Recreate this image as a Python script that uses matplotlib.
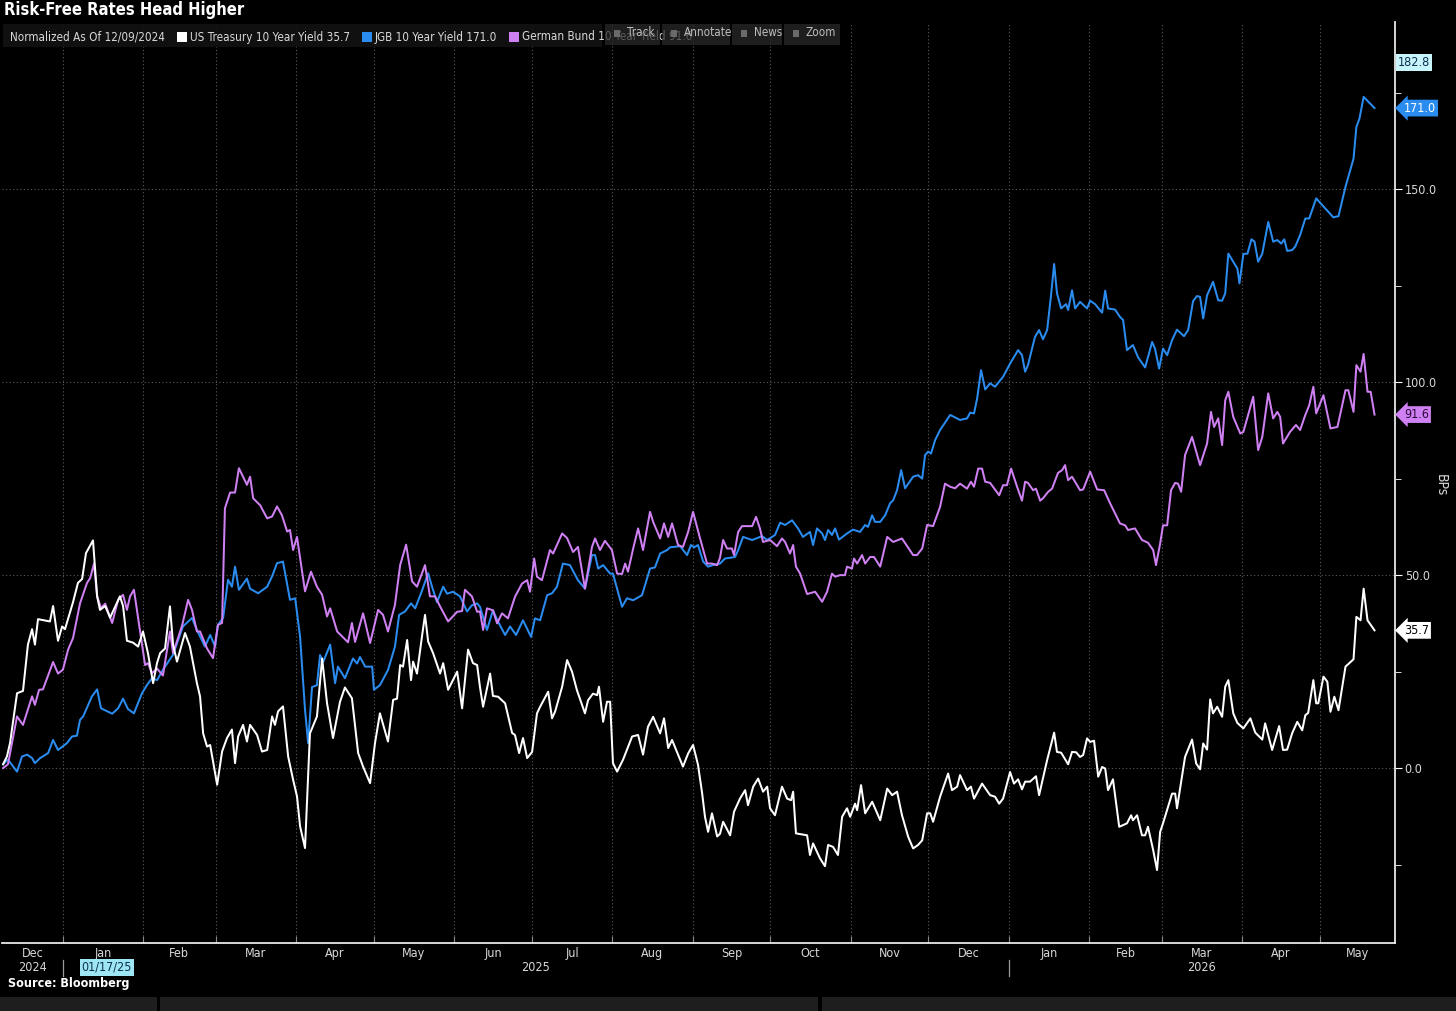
import os
import numpy as np
import pandas as pd
import matplotlib
matplotlib.use("Agg")
import matplotlib.pyplot as plt
import matplotlib.dates as mdates
from matplotlib.patches import Rectangle
from matplotlib.ticker import MultipleLocator, FixedLocator, NullFormatter
from matplotlib import font_manager
from matplotlib.font_manager import FontProperties

# ---------------- data (days since 2024-12-09, change in bp) ----------------
START_DATE = "2024-12-09"

ust_days = [0, 1.5, 2.7, 5.4, 7.7, 9.6, 11.2, 12.3, 13.5, 18.1,
            19.3, 21.2, 22.8, 23.9, 27.0, 28.9, 30.5, 32.0, 34.7, 36.3,
            37.4, 39.4, 41.3, 45.1, 46.3, 47.8, 50.2, 52.1, 54.0, 55.9,
            57.9, 59.4, 60.6, 62.5, 64.4, 65.6, 67.1, 70.2, 72.1, 74.8,
            76.0, 77.2, 78.7, 79.9, 82.6, 84.5, 86.4, 88.3, 89.5, 90.7,
            92.6, 94.1, 95.3, 98.0, 99.9, 101.9, 103.8, 104.9, 106.1, 108.0,
            110.0, 111.9, 113.4, 114.6, 116.5, 118.4, 121.1, 123.1, 125.0, 127.3,
            130.0, 131.9, 134.6, 137.0, 138.9, 141.6, 143.5, 145.4, 148.5, 150.5,
            152.0, 153.2, 154.3, 155.9, 157.4, 158.2, 159.7, 161.7, 162.8, 164.0,
            165.9, 168.6, 169.8, 171.7, 175.2, 177.1, 179.4, 181.3, 182.9, 184.0,
            185.2, 187.9, 189.0, 191.0, 193.7, 196.4, 197.5, 199.1, 200.6, 202.2,
            204.1, 206.0, 207.2, 210.3, 211.8, 213.0, 215.7, 217.6, 219.5, 221.4,
            224.5, 225.7, 227.6, 229.2, 229.9, 231.5, 233.0, 234.2, 235.3, 236.9,
            239.2, 242.7, 245.0, 246.9, 248.8, 250.8, 253.5, 255.0, 256.6, 258.1,
            260.0, 262.3, 264.3, 266.2, 268.1, 269.7, 270.8, 272.0, 273.5, 275.5,
            276.6, 277.8, 280.5, 282.0, 284.3, 286.3, 287.4, 289.4, 291.3, 293.2,
            294.8, 295.9, 297.8, 300.5, 302.5, 304.0, 304.8, 305.9, 310.2, 311.3,
            312.5, 315.2, 317.1, 318.3, 320.2, 322.1, 323.7, 325.6, 326.8, 328.7,
            329.5, 331.0, 332.6, 335.3, 338.4, 341.1, 343.0, 344.9, 346.8, 349.2,
            351.1, 353.0, 354.6, 356.5, 357.7, 358.8, 361.5, 364.6, 366.1, 368.1,
            369.2, 371.9, 373.4, 374.6, 377.7, 380.8, 382.7, 384.3, 385.8, 388.5,
            390.0, 391.6, 393.1, 394.3, 396.2, 398.5, 399.7, 402.8, 405.5, 406.6,
            408.2, 410.9, 412.4, 414.0, 415.5, 416.7, 418.2, 419.4, 420.9, 422.5,
            424.0, 425.2, 426.3, 428.2, 430.6, 433.6, 435.2, 435.9, 437.5, 439.4,
            440.6, 441.7, 443.7, 445.2, 446.4, 447.5, 451.0, 452.2, 452.9, 456.0,
            458.7, 460.3, 461.8, 463.0, 464.5, 465.7, 466.8, 468.4, 470.3, 471.5,
            472.7, 474.6, 476.2, 478.5, 481.2, 483.1, 485.8, 486.9, 489.6, 492.3,
            493.8, 495.4, 497.3, 499.3, 501.2, 502.4, 503.5, 505.5, 506.6, 507.4,
            509.4, 510.9, 512.1, 513.6, 515.2, 517.9, 521.0, 522.1, 523.7, 524.9,
            526.4, 529.1]
ust_bp = [1, 3, 6.5, 19.4, 20, 32, 36, 32, 38.6, 38,
          42, 33, 36.7, 36, 43, 48, 49, 55.7, 59, 44.5,
          41, 42, 39, 44.5, 42, 33, 32.5, 31.5, 35.4, 29.8,
          22, 27.2, 29.8, 31, 41.9, 32, 27.6, 35, 31.5, 22,
          18.6, 9, 5.6, 6, -4.3, 4.3, 7.8, 10, 1.3, 8.2,
          11.2, 6.9, 11.2, 8.6, 4.3, 4.7, 13.4, 11.2, 14.7, 16,
          3, -3, -7.3, -15.1, -20.7, 9, 13.4, 28.4, 16.8, 7.8,
          17.2, 20.9, 18.1, 3.9, 0.4, -3.9, 6.5, 14.2, 6.9, 17.7,
          18, 26.7, 26.3, 33.2, 22.8, 27.6, 24.5, 34.5, 39.7, 32.8,
          29.8, 24.5, 27.2, 20.3, 25, 15.5, 30.7, 27.2, 26.7, 21,
          15.9, 24.5, 18.7, 18.5, 16.8, 9.1, 8.6, 3.9, 7.8, 2.6,
          4.2, 14.2, 15.9, 19.8, 12.9, 14.7, 21.1, 28, 25, 20.2,
          14.2, 17.6, 19.3, 18.9, 21.1, 12, 17.2, 17.2, 1.3, -0.9,
          2.2, 8.2, 8.6, 3.5, 10.7, 13.3, 9, 12.9, 5.2, 7.3,
          4.2, 0.4, 3.8, 6, 0.9, -6.5, -12.6, -16.5, -11.7, -17.7,
          -17, -13.9, -17.4, -11.3, -7.9, -5.7, -9.6, -4.8, -2.7, -6.1,
          -4.8, -10.4, -12.2, -4.8, -7.9, -8.3, -6.1, -16.9, -17.4, -22.5,
          -19.5, -23.4, -25.4, -19.9, -20.4, -22.5, -12.6, -10.4, -12.6, -9.2,
          -10.9, -4.4, -11.7, -8.7, -13.5, -5.3, -7, -6.1, -12.2, -17.8,
          -20.8, -19.9, -18.7, -11.7, -11.7, -13.9, -7.4, -1.4, -5.7, -4.8,
          -1.8, -5.7, -4.8, -7.9, -4, -7, -7.4, -9.2, -7.9, -1,
          -4, -2.9, -5.5, -3.5, -3.5, -2.1, -7, 2.1, 9.2, 4.2,
          4, 1, 4.2, 4.1, 2.9, 3.4, 7.7, 6.8, 7.1, -2.2,
          0.3, -0.1, -5.7, -2.9, -15.2, -14.3, -12.2, -13.5, -12.2, -17.4,
          -17.4, -15.2, -21.2, -26.4, -16.5, -14.3, -6.6, -6.6, -10.4, 2.9,
          7.4, 1.2, -0.3, 6.4, 4.8, 17.8, 14.2, 15.9, 13.3, 21.1,
          22.8, 14.2, 11.7, 10.3, 12.9, 9.2, 7.4, 11.6, 4.7, 10.9,
          4.7, 4.8, 9, 12, 9.8, 13.7, 14.3, 22.8, 16.8, 16.8,
          23.7, 22.4, 14.6, 18.5, 15, 26.3, 28.2, 39.2, 38.3, 46.5,
          38.3, 35.7]

jgb_days = [0, 1.9, 5.4, 7.3, 9.3, 11.2, 12.3, 14.3, 17.4, 19.3,
            21.2, 24.7, 26.6, 28.5, 29.7, 30.9, 34.3, 36.3, 37.8, 42.1,
            44.4, 46.3, 48.2, 50.5, 53.6, 55.6, 57.5, 59.4, 61.7, 65.6,
            69.4, 72.9, 74.8, 77.9, 79.9, 81.8, 82.9, 84.9, 86.8, 88.3,
            89.5, 91.0, 94.1, 95.3, 98.4, 101.9, 103.8, 105.7, 108.0, 110.7,
            112.7, 114.6, 116.5, 117.7, 119.2, 121.1, 122.3, 123.5, 126.2, 128.1,
            129.2, 131.9, 135.0, 136.6, 137.7, 139.7, 142.4, 143.1, 145.4, 148.5,
            151.2, 152.8, 155.1, 157.4, 159.0, 161.7, 164.0, 165.5, 167.4, 169.8,
            171.3, 173.6, 176.3, 179.0, 180.9, 182.9, 184.0, 186.7, 189.0, 191.0,
            193.7, 195.6, 197.9, 200.6, 203.7, 205.2, 207.2, 209.9, 211.8, 213.7,
            216.0, 218.7, 221.8, 224.5, 227.2, 228.4, 229.6, 231.5, 234.2, 235.3,
            238.8, 240.7, 243.1, 246.5, 249.6, 251.5, 253.5, 256.2, 257.3, 261.2,
            263.9, 265.4, 266.6, 268.1, 270.1, 272.0, 273.9, 276.6, 278.5, 282.4,
            283.6, 285.5, 289.0, 292.8, 294.8, 297.8, 299.8, 301.7, 304.4, 306.7,
            308.6, 311.3, 312.5, 314.0, 316.0, 317.1, 318.3, 319.8, 321.0, 322.5,
            325.6, 327.9, 330.6, 332.6, 333.7, 335.3, 336.4, 338.4, 340.3, 342.2,
            343.4, 344.9, 346.5, 348.0, 351.1, 353.0, 354.6, 355.7, 356.9, 358.0,
            359.6, 361.5, 365.4, 369.2, 371.9, 373.1, 374.6, 375.8, 377.3, 378.9,
            380.8, 382.7, 385.8, 388.5, 391.6, 393.1, 394.3, 395.4, 398.1, 399.7,
            401.2, 402.8, 404.3, 405.5, 406.6, 408.2, 410.1, 410.9, 412.4, 413.6,
            415.5, 418.2, 419.4, 421.3, 424.0, 425.2, 426.3, 429.0, 430.9, 432.1,
            433.6, 435.9, 437.9, 440.6, 443.3, 444.4, 446.0, 447.5, 449.1, 451.0,
            452.9, 455.6, 457.2, 459.1, 460.6, 461.8, 463.0, 464.5, 466.8, 468.8,
            470.3, 471.5, 472.7, 474.6, 476.2, 477.0, 478.5, 480.1, 481.6, 482.8,
            484.2, 485.8, 488.1, 490.0, 491.6, 493.1, 494.3, 495.4, 497.3, 498.5,
            500.4, 502.4, 503.9, 506.6, 513.2, 515.2, 517.9, 521.0, 522.1, 523.3,
            524.9, 526.8, 529.1]
jgb_bp = [1, 2.2, -0.9, 3, 3.5, 2.6, 1.3, 2.6, 3.9, 7.3,
          4.7, 6.5, 8.2, 8.4, 12.5, 13.4, 18.6, 20.4, 15.5, 14.1,
          15.5, 18, 15.3, 14.2, 19.4, 21.6, 23.3, 22.8, 25.5, 29.4,
          36.7, 38.9, 35.8, 31.5, 34.5, 31.5, 37.1, 38.9, 48.8, 47,
          52.2, 46.2, 49.1, 46.5, 45.3, 47, 49.7, 53.1, 53.5, 43.6,
          44, 34, 15.1, 6.5, 21, 21.5, 29.3, 27.5, 32, 22,
          26.3, 23.3, 28.4, 27.1, 28.8, 26.3, 26.3, 20.3, 21.5, 25.4,
          31.5, 39.7, 40.6, 42.7, 41.4, 46.1, 50.5, 47, 43, 47,
          45.2, 45.7, 44.5, 40.6, 42.2, 42.7, 41.8, 35.8, 40.9, 37.9,
          34.5, 36.7, 34.5, 38.3, 34, 38.8, 38.3, 44.8, 45.3, 47,
          53, 52.6, 48.7, 46.5, 55.2, 55.2, 51.7, 52.6, 50.4, 50.4,
          41.8, 44, 43.5, 44.8, 51.7, 52, 55.6, 56.5, 57.2, 57.5,
          55.2, 57.8, 57.2, 57.8, 53.5, 52.2, 52.6, 53, 54.3, 54.7,
          56.5, 59.9, 59.1, 60.1, 59.1, 60.4, 63.6, 63, 64.2, 62.1,
          59.9, 61.2, 57.8, 62.1, 60.8, 59.1, 61.7, 60.4, 62.1, 59.2,
          60.8, 61.8, 61.2, 63, 62.5, 65.5, 63.8, 63.8, 65.5, 68.6,
          69.4, 72, 77.2, 72.5, 75.5, 75.9, 75, 81.1, 82, 81.5,
          85, 87.6, 91.5, 90.2, 90.6, 92.1, 91.9, 95.8, 103.1, 98.1,
          99.7, 98.8, 101.4, 104.8, 108.3, 107, 102.7, 104.4, 111.7, 113.5,
          111.1, 113.5, 122.5, 130.6, 123, 119.1, 120.2, 118.7, 123.8, 119.1,
          120.8, 119.1, 121.1, 120.2, 118, 123.7, 119.1, 118.8, 116.9, 116.1,
          108.3, 109.6, 106.4, 103.8, 110.4, 108.7, 103.5, 108.7, 107, 110.9,
          113.6, 111.9, 113.5, 121, 122.3, 122.1, 116.5, 122.5, 126, 121.2,
          121.1, 123, 133.3, 131.2, 129.4, 125.6, 133.2, 133.3, 137, 136.4,
          131.2, 133.3, 141.5, 136.4, 136.8, 135.9, 137, 134, 134.2, 135.1,
          138.1, 142.4, 142.4, 147.6, 142.7, 143, 150.6, 157.9, 166.1, 168.3,
          173.9, 172.6, 171.0]

bund_days = [0, 1.9, 5.4, 7.7, 11.2, 12.3, 13.9, 15.4, 19.3, 21.2,
             23.1, 25.1, 27.0, 29.7, 32.4, 33.6, 35.1, 36.3, 37.8, 39.4,
             42.1, 44.4, 46.3, 47.8, 49.0, 50.5, 52.9, 54.8, 55.9, 57.5,
             59.4, 61.7, 64.4, 65.6, 69.1, 71.4, 72.9, 74.8, 76.0, 78.7,
             81.0, 82.9, 84.5, 85.6, 87.6, 89.5, 91.0, 94.1, 95.3, 96.5,
             99.2, 101.9, 103.8, 105.7, 107.6, 109.6, 110.7, 111.9, 113.4, 116.5,
             118.8, 121.1, 123.1, 125.0, 126.2, 128.9, 133.1, 134.6, 135.8, 138.9,
             141.6, 144.7, 146.6, 148.5, 151.2, 153.2, 155.5, 157.8, 159.7, 162.8,
             164.7, 166.7, 168.6, 171.7, 175.2, 177.1, 178.2, 180.9, 182.9, 184.0,
             185.2, 186.7, 189.0, 190.6, 192.5, 194.8, 197.5, 200.2, 202.2, 203.3,
             204.9, 206.0, 207.9, 211.0, 212.2, 215.7, 217.6, 219.9, 221.8, 224.5,
             227.2, 228.4, 230.3, 232.2, 234.9, 236.9, 238.8, 240.0, 241.1, 243.1,
             245.0, 246.9, 249.6, 250.8, 253.5, 255.0, 256.6, 258.1, 260.4, 262.3,
             264.3, 266.2, 268.9, 271.6, 273.5, 275.5, 276.6, 277.8, 279.3, 281.2,
             282.0, 283.6, 285.1, 289.0, 290.5, 292.0, 293.2, 295.9, 298.6, 300.5,
             301.7, 303.6, 304.8, 305.9, 307.5, 310.2, 313.3, 316.0, 317.9, 319.8,
             321.0, 322.9, 324.8, 325.6, 327.5, 328.3, 329.5, 331.4, 332.6, 334.5,
             336.0, 338.4, 341.1, 343.4, 346.8, 351.1, 352.6, 354.6, 356.5, 358.8,
             361.5, 363.4, 365.4, 367.3, 369.2, 371.9, 373.4, 374.6, 376.2, 377.7,
             378.9, 380.8, 384.3, 385.8, 387.3, 388.9, 391.2, 393.1, 394.3, 395.4,
             397.4, 398.5, 400.1, 401.2, 403.2, 404.7, 407.0, 408.6, 409.7, 410.9,
             412.4, 415.5, 416.7, 419.4, 422.1, 424.8, 427.1, 430.9, 432.9, 434.0,
             436.7, 439.4, 441.7, 443.7, 444.8, 446.4, 447.5, 449.1, 450.6, 452.2,
             453.3, 454.5, 456.0, 458.7, 461.8, 464.5, 466.0, 467.2, 468.8, 470.3,
             471.5, 472.7, 474.6, 477.3, 478.5, 482.3, 484.2, 485.8, 488.1, 490.0,
             491.6, 492.7, 493.8, 496.5, 498.8, 500.4, 502.4, 503.9, 505.5, 506.6,
             509.4, 512.1, 514.8, 517.9, 519.0, 521.0, 522.1, 523.7, 524.9, 526.4,
             527.6, 529.1]
bund_bp = [0, 1, 13.4, 11.2, 18.6, 16.4, 20.3, 20.4, 27.5, 24.5,
           25.5, 30.7, 33.7, 42.7, 48, 49.2, 53, 44.5, 41.5, 42.6,
           37.6, 43.6, 44.9, 41, 44.5, 46.2, 35.4, 26.7, 27.2, 24.6,
           25.8, 24, 35.4, 29.8, 37, 43.6, 41, 35.4, 35.4, 31,
           28.5, 37.1, 37.6, 67.3, 71.4, 71.4, 77.7, 73.4, 75.5, 69.9,
           68.1, 64.7, 65.2, 67.8, 65.5, 61.3, 61.7, 56.5, 59.9, 45.8,
           50.9, 47, 44.9, 39.3, 41.4, 35.4, 32.6, 37.6, 32.7, 40.1,
           32.4, 41, 39.7, 35.4, 42.3, 52.6, 57.9, 48.4, 47, 52.6,
           44.5, 44.5, 41.9, 38, 40.5, 40.7, 46.2, 44.5, 40.5, 40.6,
           35.8, 41.4, 40.9, 37.5, 40.1, 38.8, 44.4, 47.8, 48.7, 45.7,
           54.3, 49.6, 48.7, 56.5, 55.6, 60.8, 59.6, 56, 57.3, 46.5,
           57.3, 59.5, 56.5, 58.9, 56.5, 50.4, 50.3, 53, 50.9, 56.9,
           62.1, 56.5, 66.4, 63.8, 59.5, 63.4, 59.9, 63.4, 57.8, 57.3,
           61.2, 66.4, 59.5, 53, 53, 52.6, 54.5, 59.1, 56.9, 56.9,
           55.2, 61.2, 62.7, 62.7, 65.1, 62.1, 58.6, 59.1, 57.5, 59.5,
           58.6, 55.6, 57.8, 52.2, 50.4, 45.1, 45.7, 43.1, 45.7, 50.4,
           49.6, 50, 50, 52.2, 51.7, 54.3, 53, 55.2, 53, 54.7,
           54.7, 52.2, 59.9, 58.6, 59.5, 55.2, 55.2, 56.9, 63, 62.7,
           67.7, 73.7, 72.9, 72.5, 73.7, 72.4, 74.2, 72.9, 77.6, 77.6,
           74.2, 73.9, 70.7, 73.3, 73.3, 77.6, 72.9, 69.3, 74.2, 73.9,
           72, 72.4, 69.3, 69.9, 71.6, 72.4, 76.5, 77.2, 78.5, 74.6,
           75.5, 72, 72.2, 76.8, 72.2, 72, 68.6, 63.4, 62.9, 61.7,
           62.1, 59.1, 58.4, 56.5, 52.6, 58.2, 62.9, 62.9, 72, 73.9,
           73.7, 71.6, 81.1, 85.8, 78.5, 84.1, 92.3, 88.4, 90.6, 83.7,
           95.3, 97.5, 91, 86.7, 87.1, 96.2, 82.4, 85.8, 97.1, 90.6,
           92.3, 91, 84.1, 87.1, 88.9, 87.6, 91.5, 94, 98.8, 91.9,
           96.6, 88, 88.4, 97.9, 97.9, 92.3, 104.4, 102.7, 107.3, 97.5,
           97.5, 91.6]

series_names = ["US Treasury 10 Year Yield", "JGB 10 Year Yield", "German Bund 10 Year Yield"]
y_ticks = [0, 50, 100, 150]
cursor_date = "2025-01-17"
cursor_value = 182.8
toolbar_labels = ["Track", "Annotate", "News", "Zoom"]

# ---------------- fonts: prefer a condensed face ----------------
cond = [f for f in font_manager.fontManager.ttflist
        if ("Narrow" in os.path.basename(f.fname) or "Condensed" in os.path.basename(f.fname))]


def pick(bold):
    pref = ["LiberationSansNarrow", "DejaVuSansCondensed", "RobotoCondensed", "OpenSansCondensed",
            "OpenSans_Condensed", "Roboto"]
    good = []
    for f in cond:
        b = os.path.basename(f.fname)
        if "Italic" in b or "Oblique" in b or "Light" in b or "Thin" in b or "Medium" in b:
            continue
        if ("Bold" in b) != bold:
            continue
        if "SemiBold" in b or "ExtraBold" in b:
            continue
        rank = next((i for i, p in enumerate(pref) if p in b.replace("-", "")), 99)
        good.append((rank, f.fname))
    good.sort()
    return good[0][1] if good else None


reg_path, bold_path = pick(False), pick(True)
if reg_path:
    FP = FontProperties(fname=reg_path)
    FPB = FontProperties(fname=bold_path) if bold_path else FontProperties(fname=reg_path, weight="bold")
    FS = 9.0
else:
    FP = FontProperties(family="DejaVu Sans")
    FPB = FontProperties(family="DejaVu Sans", weight="bold")
    FS = 7.6


def fp(size, bold=False):
    p = (FPB if bold else FP).copy()
    p.set_size(size)
    return p


# ---------------- style ----------------
WHITE = "#ffffff"
BLUE = "#2b8cf0"
PURPLE = "#cf80f2"
GRID = "#5a5a5a"
TXT = "#d9d9d9"

W, H = 1456, 1011
fig = plt.figure(figsize=(W / 100, H / 100), dpi=100, facecolor="black")


def fx(p):
    return p / W


def fy(p):
    return 1 - p / H


ax = fig.add_axes([fx(2), fy(943), fx(1395) - fx(2), fy(22) - fy(943)])
ax.set_facecolor("black")

base = mdates.date2num(pd.Timestamp(START_DATE))


def tx(days):
    return base + np.asarray(days, dtype=float)


ax.plot(tx(jgb_days), jgb_bp, color=BLUE, lw=1.45, zorder=3)
ax.plot(tx(bund_days), bund_bp, color=PURPLE, lw=1.45, zorder=4)
ax.plot(tx(ust_days), ust_bp, color=WHITE, lw=1.45, zorder=5)

ax.set_xlim(base - 0.4, base + 537.0)
ax.set_ylim(-45.3, 193.3)

# grid & ticks
month_starts = pd.date_range("2025-01-01", "2026-05-01", freq="MS")
ax.xaxis.set_major_locator(FixedLocator(mdates.date2num(month_starts)))
ax.xaxis.set_major_formatter(NullFormatter())
ax.tick_params(axis="x", which="major", direction="in", length=5, color="#8a8a8a")
ax.yaxis.tick_right()
ax.yaxis.set_major_locator(FixedLocator(y_ticks))
ax.yaxis.set_minor_locator(MultipleLocator(25))
ax.yaxis.set_major_formatter(plt.FuncFormatter(lambda v, p: f"{v:.1f}"))
ax.tick_params(axis="y", which="major", direction="out", length=5, color=WHITE,
               labelcolor=TXT, pad=2)
ax.tick_params(axis="y", which="minor", direction="out", length=4, color=WHITE)
for lab in ax.get_yticklabels():
    lab.set_fontproperties(fp(FS))
ax.grid(True, which="major", color=GRID, linestyle=(0, (1, 2.2)), linewidth=0.8)
for s in ("left", "top"):
    ax.spines[s].set_visible(False)
for s in ("bottom", "right"):
    ax.spines[s].set_color("#e8e8e8")
    ax.spines[s].set_linewidth(1.3)

# month labels centred on visible part of each month, year labels below
xmin, xmax = ax.get_xlim()
m_edges = pd.date_range("2024-12-01", "2026-06-01", freq="MS")
xform = ax.get_xaxis_transform()
for a, b in zip(m_edges[:-1], m_edges[1:]):
    lo = max(mdates.date2num(a), xmin)
    hi = min(mdates.date2num(b), xmax)
    if hi > lo:
        ax.annotate(a.strftime("%b"), xy=((lo + hi) / 2, 0), xycoords=xform,
                    xytext=(0, -7.5), textcoords="offset points", ha="center", va="center",
                    color=TXT, fontproperties=fp(FS), annotation_clip=False)
y_edges = pd.to_datetime(["2024-01-01", "2025-01-01", "2026-01-01", "2027-01-01"])
for a, b in zip(y_edges[:-1], y_edges[1:]):
    lo = max(mdates.date2num(a), xmin)
    hi = min(mdates.date2num(b), xmax)
    ax.annotate(str(a.year), xy=((lo + hi) / 2, 0), xycoords=xform, xytext=(0, -17.5),
                textcoords="offset points", ha="center", va="center",
                color=TXT, fontproperties=fp(FS), annotation_clip=False)
# year separators
for yr in ("2025-01-01", "2026-01-01"):
    xv = mdates.date2num(pd.Timestamp(yr))
    ax.plot([xv, xv], [-0.019, -0.036], transform=xform, color="#9a9a9a", lw=0.9, clip_on=False)

# crosshair date readout
ax.annotate(pd.Timestamp(cursor_date).strftime("%m/%d/%y"),
            xy=(mdates.date2num(pd.Timestamp(cursor_date)), 0), xycoords=xform,
            xytext=(2, -17.5), textcoords="offset points", ha="center", va="center",
            fontproperties=fp(FS), color="#0a3050", annotation_clip=False,
            bbox=dict(boxstyle="square,pad=0.15", fc="#9fe6f5", ec="none"))

# value tags on right axis
yx = ax.get_yaxis_transform()
tags = [(ust_bp[-1], WHITE, "black"), (jgb_bp[-1], BLUE, "white"), (bund_bp[-1], PURPLE, "#2a0838")]
for v, fc, tc in tags:
    ax.annotate(f"{v:.1f}", xy=(1.0, v), xycoords=yx, xytext=(6.5, 0), textcoords="offset points",
                ha="left", va="center", fontproperties=fp(FS), color=tc, annotation_clip=False,
                bbox=dict(boxstyle="larrow,pad=0.15", fc=fc, ec="none"))
ax.annotate(f"{cursor_value:.1f}", xy=(1.0, cursor_value), xycoords=yx, xytext=(2, 0),
            textcoords="offset points", ha="left", va="center", fontproperties=fp(FS), color="#0a3050",
            annotation_clip=False, bbox=dict(boxstyle="square,pad=0.15", fc="#c8f4fb", ec="none"))

fig.text(fx(1441), fy(485), "BPs", rotation=270, ha="center", va="center", color=TXT,
         fontproperties=fp(FS + 1))

# title
fig.text(fx(4), fy(10), "Risk-Free Rates Head Higher", ha="left", va="center",
         color="white", fontproperties=fp(FS + 2.9, bold=True))

# legend bar (laid out left to right from measured text widths)
LFS = FS * 0.93
renderer = fig.canvas.get_renderer()
fig.add_artist(Rectangle((fx(3), fy(47)), fx(602) - fx(3), fy(24) - fy(47), transform=fig.transFigure,
                         fc="#121212", ec="none", alpha=0.9, zorder=5))
t0 = fig.text(fx(10), fy(37), "Normalized As Of " + pd.Timestamp(START_DATE).strftime("%m/%d/%Y"),
              ha="left", va="center", color=TXT, fontproperties=fp(LFS), zorder=6)
cur = t0.get_window_extent(renderer).x1
legend_items = [(WHITE, f"{series_names[0]} {ust_bp[-1]:.1f}"),
                (BLUE, f"{series_names[1]} {jgb_bp[-1]:.1f}"),
                (PURPLE, f"{series_names[2]} {bund_bp[-1]:.1f}")]
for col, lab in legend_items:
    sx = cur + 12
    fig.add_artist(Rectangle((sx / W, fy(42)), 10 / W, 10 / H, transform=fig.transFigure,
                             fc=col, ec="none", zorder=6))
    t = fig.text((sx + 13) / W, fy(37), lab, ha="left", va="center", color=TXT,
                 fontproperties=fp(LFS), zorder=6)
    cur = t.get_window_extent(renderer).x1

# toolbar overlay (semi-transparent buttons with icon shapes)
buttons = [(605, 660), (662, 730), (732, 782), (784, 840)]
for (b0, b1), lab in zip(buttons, toolbar_labels):
    fig.add_artist(Rectangle((fx(b0), fy(45)), fx(b1) - fx(b0), fy(24) - fy(45), transform=fig.transFigure,
                             fc="#2a2a2a", ec="none", alpha=0.72, zorder=7))
    fig.text(fx(b0 + 22), fy(33), lab, ha="left", va="center", color="#bdbdbd",
             fontproperties=fp(LFS), zorder=8)
    fig.add_artist(Rectangle((fx(b0 + 9), fy(37)), 6 / W, 7 / H, transform=fig.transFigure,
                             fc="#6a6a6a", ec="none", zorder=8))

# source
fig.text(fx(8), fy(984), "Source: Bloomberg", ha="left", va="center", color="white",
         fontproperties=fp(FS, bold=True))

# bottom UI strip
for x0, x1 in [(0, 157), (160, 818), (822, 1456)]:
    fig.add_artist(Rectangle((fx(x0), 0), fx(x1) - fx(x0), 14 / H, transform=fig.transFigure,
                             fc="#1e1e1e", ec="none"))

fig.savefig("out.png", dpi=100, facecolor="black")
